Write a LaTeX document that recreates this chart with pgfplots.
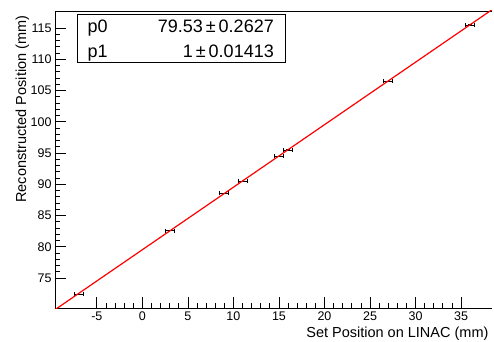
\documentclass[border=0pt]{standalone}
\usepackage{fontspec}
\setmainfont{Liberation Sans}
\usepackage{pgfplots}
\pgfplotsset{compat=1.18}
\begin{document}
\begin{tikzpicture}
\begin{axis}[
  name=ax,
  scale only axis,
  width=437pt, height=297pt,
  xmin=-9.6, xmax=38.4,
  ymin=70.2, ymax=117.72,
  axis x line=box, axis y line=left,
  axis line style={-, line width=0.9pt},
  xtick pos=left, ytick pos=left,
  tick align=inside,
  xtick={-5,0,...,35}, ytick={75,80,...,115},
  minor x tick num=4, minor y tick num=4,
  major tick length=11pt, minor tick length=5.5pt,
  tick style={line width=0.8pt, black},
  /pgf/number format/assume math mode=true,
  ticklabel style={font=\fontsize{12.5}{13}\selectfont},
  xlabel={Set Position on LINAC (mm)},
  ylabel={Reconstructed Position (mm)},
  label style={font=\fontsize{14.5}{16}\selectfont},
  xlabel style={at={(axis description cs:1,0)}, anchor=base east, yshift=-29.5pt},
  ylabel style={at={(axis description cs:-0.066,0.996)}, anchor=base east},
  clip=true,
]
\addplot[black, only marks, mark=*, mark size=0pt,
  error bars/.cd, x dir=both, x explicit, y dir=both, y explicit,
  error bar style={line width=0.7pt, black},
  error mark=|,
  error mark options={mark size=2pt, line width=0.8pt, black}]
  coordinates {
  (-7,72.45) +- (0.5,0)
  (3,82.6) +- (0.5,0)
  (9,88.55) +- (0.5,0)
  (11,90.5) +- (0.5,0)
  (15,94.5) +- (0.5,0)
  (16,95.5) +- (0.5,0)
  (27,106.5) +- (0.5,0)
  (36,115.5) +- (0.5,0)
  };
\addplot[red, line width=1.2pt] coordinates {(-9.6,69.93) (38.4,117.93)};
\end{axis}
\draw[fill=white, line width=0.8pt] ([xshift=22.7pt,yshift=-3.7pt]ax.north west) rectangle ([xshift=230.7pt,yshift=-51.3pt]ax.north west);
\node[anchor=base west, inner sep=0pt, font=\fontsize{18}{20}\selectfont] at ([xshift=32.3pt,yshift=-21.3pt]ax.north west) {p0};
\node[anchor=base west, inner sep=0pt, font=\fontsize{18}{20}\selectfont] at ([xshift=32.3pt,yshift=-46pt]ax.north west) {p1};
\node[anchor=base east, inner sep=0pt, font=\fontsize{18}{20}\selectfont] at ([xshift=219pt,yshift=-21.3pt]ax.north west) {79.53\,±\,0.2627};
\node[anchor=base east, inner sep=0pt, font=\fontsize{18}{20}\selectfont] at ([xshift=219pt,yshift=-46pt]ax.north west) {1\,±\,0.01413};
\pgfresetboundingbox
\path[use as bounding box] ([xshift=-55pt,yshift=-33pt]ax.south west) rectangle ([xshift=2pt,yshift=11pt]ax.north east);
\end{tikzpicture}
\end{document}
